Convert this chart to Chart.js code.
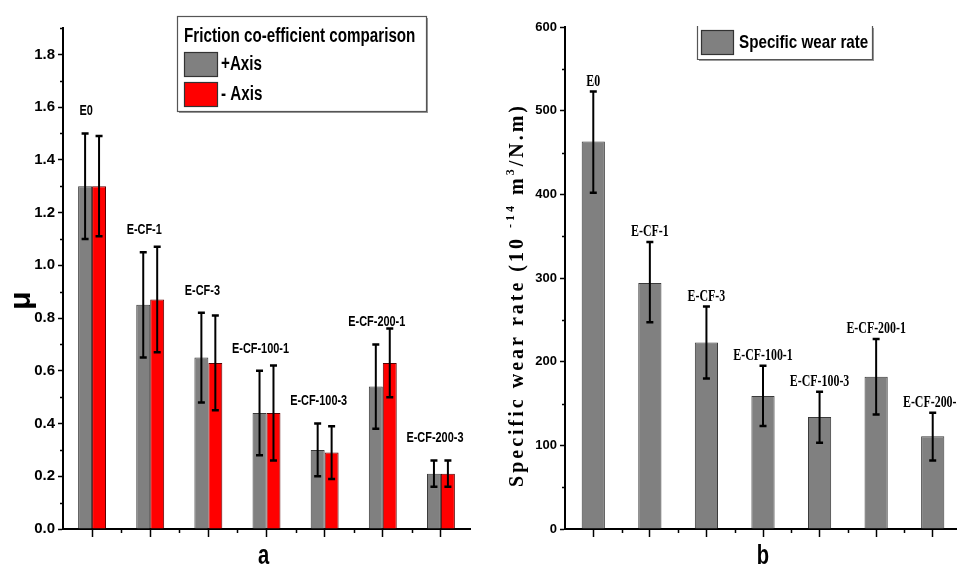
<!DOCTYPE html>
<html><head><meta charset="utf-8">
<script src="https://cdn.jsdelivr.net/npm/chart.js@4/dist/chart.umd.min.js"></script>
<style>
html,body{margin:0;padding:0;background:#fff;overflow:hidden;width:957px;height:567px;position:relative;}
#ca{position:absolute;left:0;top:0;}
#cb{position:absolute;left:480px;top:0;}
</style></head><body>
<canvas id="ca" width="480" height="567"></canvas>
<canvas id="cb" width="490" height="567"></canvas>
<script>
// ---------- data ----------
const categories = ['E0','E-CF-1','E-CF-3','E-CF-100-1','E-CF-100-3','E-CF-200-1','E-CF-200-3'];

const plusAxis      = [1.30, 0.85, 0.65, 0.44, 0.30, 0.54, 0.21];
const plusAxisLow   = [1.10, 0.65, 0.48, 0.28, 0.20, 0.38, 0.16];
const plusAxisHigh  = [1.50, 1.05, 0.82, 0.60, 0.40, 0.70, 0.26];

const minusAxis     = [1.30, 0.87, 0.63, 0.44, 0.29, 0.63, 0.21];
const minusAxisLow  = [1.11, 0.67, 0.45, 0.26, 0.19, 0.50, 0.16];
const minusAxisHigh = [1.49, 1.07, 0.81, 0.62, 0.39, 0.76, 0.26];

const wearRate      = [463, 294, 223, 159, 134, 182, 111];
const wearRateLow   = [402, 247, 180, 123, 103, 137, 82];
const wearRateHigh  = [523, 343, 266, 195, 164, 227, 139];

const frictionTicks      = [0, 0.2, 0.4, 0.6, 0.8, 1.0, 1.2, 1.4, 1.6, 1.8];
const frictionTickLabels = ['0.0','0.2','0.4','0.6','0.8','1.0','1.2','1.4','1.6','1.8'];
const wearTicks          = [0, 100, 200, 300, 400, 500, 600];
const wearTickLabels     = ['0','100','200','300','400','500','600'];

// ---------- helpers ----------
const SANS = '"Liberation Sans", Arial, sans-serif';
const SERIF = '"Liberation Serif", "Times New Roman", serif';

function drawScaledText(ctx, text, x, y, font, sx, align) {
  ctx.save();
  ctx.font = font;
  ctx.textBaseline = 'middle';
  ctx.textAlign = align || 'center';
  ctx.translate(x, y);
  ctx.scale(sx, 1);
  ctx.fillText(text, 0, 0);
  ctx.restore();
}

const errorBars = {
  id: 'errorBars',
  afterDatasetsDraw(chart, args, opts) {
    const ctx = chart.ctx, ys = chart.scales.y;
    chart.data.datasets.forEach((ds, di) => {
      if (!ds.errLow) return;
      const meta = chart.getDatasetMeta(di);
      ctx.save();
      ctx.strokeStyle = '#000';
      meta.data.forEach((bar, i) => {
        const x = bar.x;
        const y1 = ys.getPixelForValue(ds.errLow[i]);
        const y2 = ys.getPixelForValue(ds.errHigh[i]);
        ctx.lineWidth = 2;
        ctx.beginPath();
        ctx.moveTo(x, y1); ctx.lineTo(x, y2);
        ctx.stroke();
        ctx.lineWidth = 2.5;
        ctx.beginPath();
        ctx.moveTo(x - opts.cap, y1); ctx.lineTo(x + opts.cap, y1);
        ctx.moveTo(x - opts.cap, y2); ctx.lineTo(x + opts.cap, y2);
        ctx.stroke();
      });
      ctx.restore();
    });
  }
};

const catLabels = {
  id: 'catLabels',
  afterDraw(chart, args, opts) {
    const ctx = chart.ctx, ys = chart.scales.y;
    const ds = chart.data.datasets[0];
    const meta = chart.getDatasetMeta(0);
    ctx.save();
    ctx.fillStyle = '#000';
    chart.data.labels.forEach((lab, i) => {
      const x = meta.data[i].x + (opts.dx || 0);
      const y = ys.getPixelForValue(ds.errHigh[i]) - opts.gap;
      drawScaledText(ctx, lab, x, y, opts.font, opts.sx, 'center');
    });
    ctx.restore();
  }
};

const minorTicks = {
  id: 'minorTicks',
  afterDraw(chart, args, opts) {
    const ctx = chart.ctx, ys = chart.scales.y, xs = chart.scales.x, ca = chart.chartArea;
    ctx.save();
    ctx.strokeStyle = '#000';
    ctx.lineWidth = 1.5;
    const t = ys.ticks.map(k => k.value);
    const mids = [];
    for (let i = 0; i < t.length - 1; i++) mids.push((t[i] + t[i + 1]) / 2);
    const step = t[1] - t[0];
    if (ys.max - t[t.length - 1] >= step / 2 - 1e-9) mids.push(t[t.length - 1] + step / 2);
    ctx.beginPath();
    mids.forEach(v => {
      const y = Math.round(ys.getPixelForValue(v)) + 0.5;
      ctx.moveTo(ca.left - opts.ylen, y); ctx.lineTo(ca.left, y);
    });
    for (let i = 0; i < chart.data.labels.length - 1; i++) {
      const x = Math.round((xs.getPixelForValue(i) + xs.getPixelForValue(i + 1)) / 2) + 0.5;
      ctx.moveTo(x, ca.bottom); ctx.lineTo(x, ca.bottom + opts.xlen);
    }
    ctx.stroke();
    ctx.restore();
  }
};

const boxLegend = {
  id: 'boxLegend',
  afterDraw(chart, args, o) {
    const ctx = chart.ctx;
    ctx.save();
    ctx.fillStyle = '#9a9a9a';
    ctx.fillRect(o.x + 2, o.y + o.h, o.w, 2);
    ctx.fillRect(o.x + o.w, o.y + 2, 2, o.h);
    ctx.fillStyle = '#fff';
    ctx.fillRect(o.x, o.y, o.w, o.h);
    ctx.strokeStyle = '#555';
    ctx.lineWidth = 1.2;
    if (o.noTop) {
      ctx.beginPath();
      ctx.moveTo(o.x + 0.5, o.y); ctx.lineTo(o.x + 0.5, o.y + o.h + 0.5);
      ctx.lineTo(o.x + o.w + 0.5, o.y + o.h + 0.5); ctx.lineTo(o.x + o.w + 0.5, o.y);
      ctx.stroke();
    } else {
      ctx.strokeRect(o.x + 0.5, o.y + 0.5, o.w, o.h);
    }
    ctx.fillStyle = '#000';
    if (o.title) drawScaledText(ctx, o.title, o.tx, o.ty, o.titleFont, o.scaleX, 'left');
    chart.data.datasets.forEach((ds, i) => {
      const sy = o.sy + i * o.sstep;
      ctx.fillStyle = ds.backgroundColor;
      ctx.fillRect(o.sx, sy, o.sw, o.sh);
      ctx.strokeStyle = '#333';
      ctx.lineWidth = 1.2;
      ctx.strokeRect(o.sx + 0.5, sy + 0.5, o.sw - 1, o.sh - 1);
      ctx.fillStyle = '#000';
      drawScaledText(ctx, ds.label, o.sx + o.sw + o.gap, sy + o.sh / 2, o.font, o.scaleX, 'left');
    });
    ctx.restore();
  }
};

const axisTitles = {
  id: 'axisTitles',
  afterDraw(chart, args, o) {
    const ctx = chart.ctx, ca = chart.chartArea;
    ctx.save();
    ctx.fillStyle = '#000';
    drawScaledText(ctx, o.x.text, (ca.left + ca.right) / 2 + (o.x.dx || 0), ca.bottom + o.x.dy, o.x.font, o.x.sx || 1, 'center');
    const cx = ca.left + o.y.dx, cy = (ca.top + ca.bottom) / 2 + o.y.dy;
    ctx.translate(cx, cy);
    ctx.rotate(-Math.PI / 2);
    ctx.textBaseline = 'middle';
    ctx.textAlign = 'left';
    if ('letterSpacing' in ctx) ctx.letterSpacing = (o.y.spacing || 0) + 'px';
    let total = 0;
    o.y.parts.forEach(p => { ctx.font = p.sup ? o.y.supFont : o.y.font; p.w = ctx.measureText(p.t).width; total += p.w; });
    let x = -total / 2;
    o.y.parts.forEach(p => {
      ctx.font = p.sup ? o.y.supFont : o.y.font;
      ctx.fillText(p.t, x, p.sup ? -o.y.supRise : 0);
      x += p.w;
    });
    ctx.restore();
  }
};

function commonScales(yTicks, yLabels, yMax, yWidth, tickFont) {
  return {
    x: {
      offset: true,
      grid: { display: true, offset: false, drawOnChartArea: false, drawTicks: true, tickLength: 8, tickColor: '#000', tickWidth: 1.5 },
      border: { display: true, color: '#000', width: 2 },
      ticks: { display: false },
      afterFit(s) { s.height = 38; }
    },
    y: {
      min: 0, max: yMax,
      afterBuildTicks(s) { s.ticks = yTicks.map(v => ({ value: v })); },
      ticks: { callback: (v, i) => yLabels[i], font: tickFont, color: '#000', padding: 3 },
      grid: { display: true, drawOnChartArea: false, drawTicks: true, tickLength: 5, tickColor: '#000', tickWidth: 1.5 },
      border: { display: true, color: '#000', width: 2 },
      afterFit(s) { s.width = yWidth; }
    }
  };
}

// ---------- chart a ----------
new Chart(document.getElementById('ca'), {
  type: 'bar',
  data: {
    labels: categories,
    datasets: [
      { label: '+Axis', data: plusAxis, errLow: plusAxisLow, errHigh: plusAxisHigh,
        backgroundColor: '#808080', borderColor: '#3a3a3a', borderWidth: 1,
        categoryPercentage: 0.48, barPercentage: 1 },
      { label: '- Axis', data: minusAxis, errLow: minusAxisLow, errHigh: minusAxisHigh,
        backgroundColor: '#ff0000', borderColor: '#5a0000', borderWidth: 1,
        categoryPercentage: 0.48, barPercentage: 1 }
    ]
  },
  options: {
    responsive: false, animation: false,
    layout: { padding: { top: 28, right: 10, left: 0, bottom: 0 } },
    plugins: {
      legend: { display: false }, tooltip: { enabled: false },
      errorBars: { cap: 3.5 },
      catLabels: { gap: 22, font: 'bold 14px ' + SANS, sx: 0.78, dx: 1 },
      minorTicks: { ylen: 3, xlen: 4 },
      boxLegend: { x: 177, y: 16, w: 249, h: 95, title: 'Friction co-efficient comparison',
        tx: 184, ty: 36, titleFont: 'bold 20px ' + SANS, scaleX: 0.76,
        sx: 184, sy: 52, sw: 34, sh: 25, sstep: 30, gap: 3, font: 'bold 20px ' + SANS },
      axisTitles: {
        x: { text: 'a', font: 'bold 28px ' + SANS, sx: 0.72, dy: 27, dx: -3 },
        y: { parts: [{ t: 'μ' }], font: 'bold 30px ' + SANS, supFont: 'bold 14px ' + SANS, supRise: 0, dx: -41, dy: 22 }
      }
    },
    scales: commonScales(frictionTicks, frictionTickLabels, 1.9, 63, { family: SANS, size: 15, weight: 'bold' })
  },
  plugins: [errorBars, catLabels, minorTicks, boxLegend, axisTitles]
});

// ---------- chart b ----------
new Chart(document.getElementById('cb'), {
  type: 'bar',
  data: {
    labels: categories,
    datasets: [
      { label: 'Specific wear rate', data: wearRate, errLow: wearRateLow, errHigh: wearRateHigh,
        backgroundColor: '#808080', borderColor: '#3a3a3a', borderWidth: 1,
        categoryPercentage: 0.41, barPercentage: 1 }
    ]
  },
  options: {
    responsive: false, animation: false,
    layout: { padding: { top: 27, right: 9, left: 0, bottom: 0 } },
    plugins: {
      legend: { display: false }, tooltip: { enabled: false },
      errorBars: { cap: 3.5 },
      catLabels: { gap: 10, font: 'bold 17px ' + SERIF, sx: 0.7, dx: 0 },
      minorTicks: { ylen: 3, xlen: 4 },
      boxLegend: { x: 217, y: 26, w: 175, h: 33, noTop: true, scaleX: 0.8,
        sx: 221, sy: 30, sw: 33, sh: 25, sstep: 30, gap: 5, font: 'bold 19px ' + SANS },
      axisTitles: {
        x: { text: 'b', font: 'bold 28px ' + SANS, sx: 0.72, dy: 27, dx: 0 },
        y: { parts: [{ t: 'Specific wear rate (10 ' }, { t: '-14', sup: true }, { t: ' m' }, { t: '3', sup: true }, { t: '/N.m)' }],
             font: 'bold 20px ' + SERIF, supFont: 'bold 12px ' + SERIF, supRise: 7, spacing: 3, dx: -47, dy: 17 }
      }
    },
    scales: commonScales(wearTicks, wearTickLabels, 600, 85, { family: SANS, size: 13, weight: 'bold' })
  },
  plugins: [errorBars, catLabels, minorTicks, boxLegend, axisTitles]
});
</script>
</body></html>
